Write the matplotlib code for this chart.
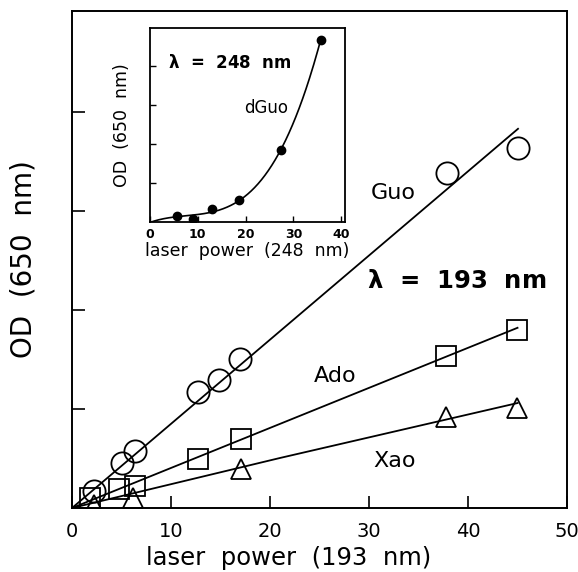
import numpy as np
import matplotlib
matplotlib.use('Agg')
from matplotlib import pyplot as plt

# main panel: OD vs laser power at 193 nm
guo_x = [2.2, 5.0, 6.4, 12.7, 14.8, 17.0, 37.9, 45.0]
guo_y = [0.17, 0.45, 0.58, 1.17, 1.29, 1.50, 3.38, 3.64]
ado_x = [1.8, 4.7, 6.4, 12.7, 17.1, 37.8, 44.9]
ado_y = [0.10, 0.19, 0.22, 0.49, 0.70, 1.54, 1.80]
xao_x = [2.2, 6.2, 17.1, 37.8, 44.9]
xao_y = [0.03, 0.10, 0.39, 0.92, 1.01]

# fitted lines (end points)
guo_fit_x = [0, 45.05]
guo_fit_y = [0, 3.83]
ado_fit_x = [0, 45.0]
ado_fit_y = [0, 1.82]
xao_fit_x = [0, 21.0, 45.0]
xao_fit_y = [0, 0.505, 1.06]

# inset: dGuo at 248 nm
dguo_x = [5.7, 8.9, 12.9, 18.6, 27.5, 35.7]
dguo_y = [0.15, 0.08, 0.33, 0.56, 1.85, 4.67]

fig = plt.figure(figsize=(5.78, 5.72), dpi=100)
ax = fig.add_axes([0.1246, 0.1119, 0.8564, 0.8689])

ax.plot(guo_fit_x, guo_fit_y, 'k-', lw=1.3)
ax.plot(ado_fit_x, ado_fit_y, 'k-', lw=1.3)
ax.plot(xao_fit_x, xao_fit_y, 'k-', lw=1.3)
ax.plot(guo_x, guo_y, 'o', ms=16, mfc='none', mec='k', mew=1.3)
ax.plot(ado_x, ado_y, 's', ms=14, mfc='none', mec='k', mew=1.3)
ax.plot(xao_x, xao_y, '^', ms=15, mfc='none', mec='k', mew=1.3)

ax.set_xlim(0, 50)
ax.set_ylim(0, 5.02)
ax.set_xticks([0, 10, 20, 30, 40, 50])
ax.set_yticks([1, 2, 3, 4])
ax.set_yticklabels([])
ax.tick_params(direction='in', length=9, width=1.2, labelsize=14, pad=10)
for s in ax.spines.values():
    s.set_linewidth(1.4)
ax.set_xlabel('laser  power  (193  nm)', fontsize=17.5)
ax.xaxis.set_label_coords(0.438, -0.077)
ax.set_ylabel('OD  (650  nm)', fontsize=20, va='center')
ax.yaxis.set_label_coords(-0.099, 0.5)

ax.text(32.4, 3.18, 'Guo', fontsize=16, ha='center', va='center')
ax.text(26.6, 1.33, 'Ado', fontsize=16, ha='center', va='center')
ax.text(32.6, 0.47, 'Xao', fontsize=16, ha='center', va='center')
ax.text(38.9, 2.29, r'$\mathbf{\lambda}$  =  193  nm', fontsize=17.5,
        fontweight='bold', ha='center', va='center')

# inset
ins = fig.add_axes([0.2595, 0.6119, 0.3374, 0.3392])
xs = np.array([0] + dguo_x)
ys = np.array([0] + dguo_y)
coef = np.polyfit(xs, ys, 3)
cx = np.linspace(0, max(dguo_x), 200)
ins.plot(cx, np.polyval(coef, cx), 'k-', lw=1.2)
ins.plot(dguo_x, dguo_y, 'ko', ms=6)
ins.set_xlim(0, 40.8)
ins.set_ylim(0, 4.97)
ins.set_xticks([0, 10, 20, 30, 40])
ins.set_yticks([1, 2, 3, 4])
ins.set_yticklabels([])
ins.tick_params(direction='in', length=4, width=1.0, labelsize=9, pad=4)
for lab in ins.get_xticklabels():
    lab.set_fontweight('bold')
for s in ins.spines.values():
    s.set_linewidth(1.3)
ins.set_xlabel('laser  power  (248  nm)', fontsize=12.5, labelpad=1)
ins.set_ylabel('OD  (650  nm)', fontsize=12.5, va='center')
ins.yaxis.set_label_coords(-0.144, 0.5)
ins.text(16.7, 4.08, r'$\mathbf{\lambda}$  =  248  nm', fontsize=12,
         fontweight='bold', ha='center', va='center')
ins.text(24.3, 2.92, 'dGuo', fontsize=12, ha='center', va='center')

fig.savefig('out.png', dpi=100)
